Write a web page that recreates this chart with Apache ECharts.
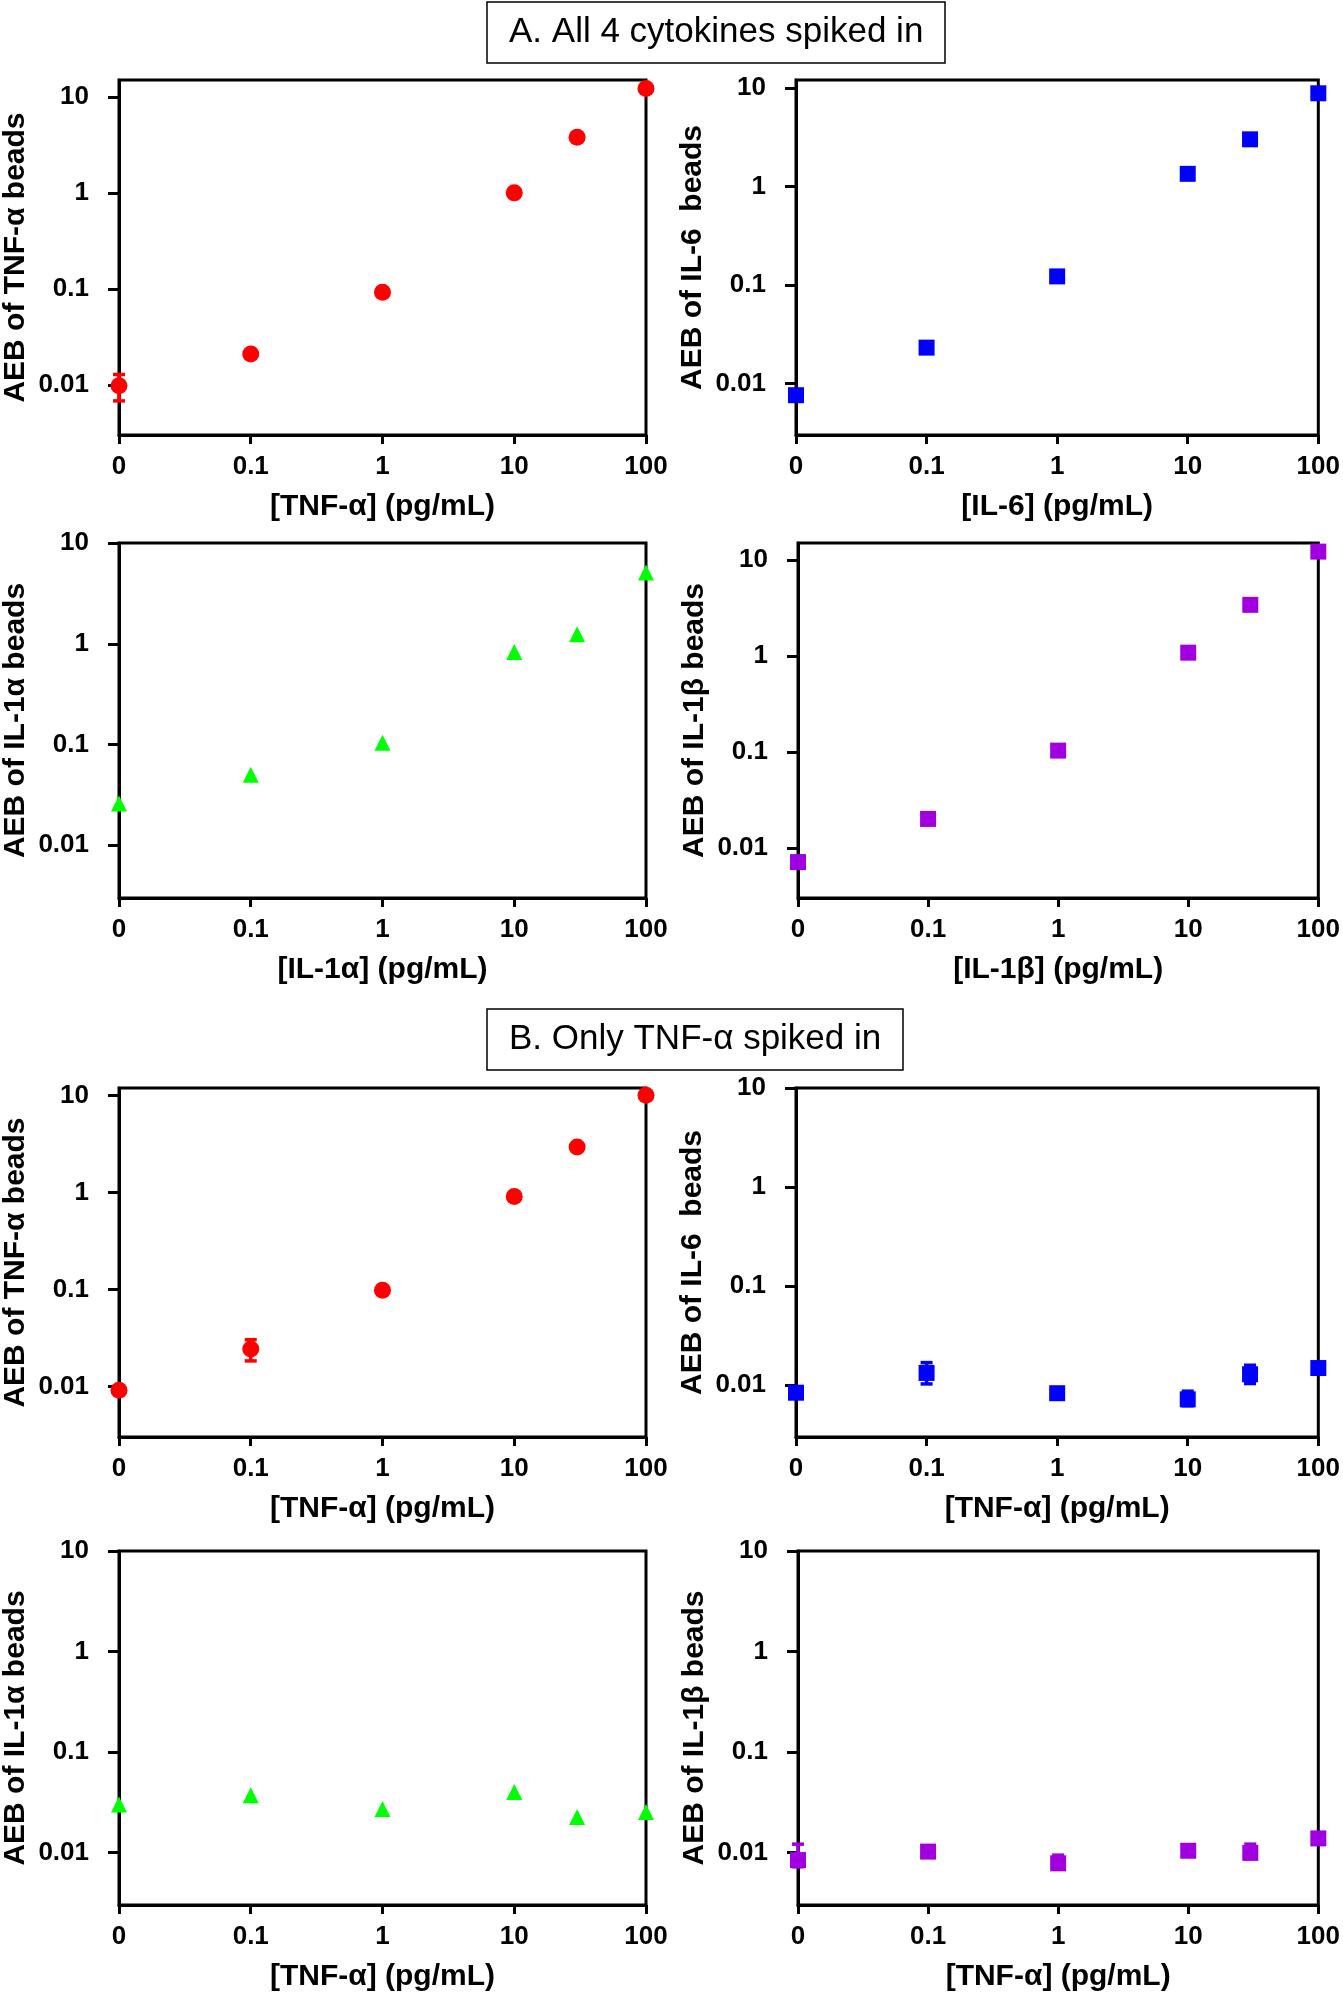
<!DOCTYPE html>
<html>
<head>
<meta charset="utf-8">
<script src="https://cdn.jsdelivr.net/npm/echarts@6/dist/echarts.min.js"></script>
<style>
html,body{margin:0;padding:0;background:#fff;}
#chart{width:1343px;height:1993px;}
</style>
</head>
<body>
<div id="chart"></div>
<script>
// ---------------- data ----------------
const conc = [0, 0.1, 1, 10, 30, 100];          // pg/mL spiked
const ZERO_AT = 0.01;                            // "0" is drawn at 0.01 on the log axis
const xTickValues = [0.01, 0.1, 1, 10, 100];
const yTickValues = [0.01, 0.1, 1, 10];

// A. All 4 cytokines spiked in
const A_TNF  = [0.0098, 0.021, 0.092, 1.0, 3.8, 12.2];
const A_TNF_errPlus  = [0.003, 0, 0, 0, 0, 0];
const A_TNF_errMinus = [0.003, 0, 0, 0, 0, 0];
const A_IL6  = [0.0076, 0.0231, 0.122, 1.34, 3.0, 8.8];
const A_IL1a = [0.026, 0.050, 0.104, 0.83, 1.24, 5.1];
const A_IL1b = [0.0071, 0.020, 0.103, 1.08, 3.4, 12.2];

// B. Only TNF-α spiked in
const B_TNF  = [0.0091, 0.0243, 0.098, 0.91, 2.96, 10.1];
const B_TNF_errPlus  = [0, 0.006, 0, 0, 0, 0];
const B_TNF_errMinus = [0, 0.006, 0, 0, 0, 0];
const B_IL6  = [0.0084, 0.0133, 0.0083, 0.0072, 0.0129, 0.0149];
const B_IL6_errPlus  = [0.001, 0.0036, 0, 0.0015, 0.003, 0];
const B_IL6_errMinus = [0.001, 0.003, 0, 0.001, 0.0025, 0];
const B_IL1a = [0.030, 0.037, 0.027, 0.040, 0.0225, 0.0253];
const B_IL1b = [0.0084, 0.0102, 0.0078, 0.0104, 0.0099, 0.0138];
const B_IL1b_errPlus  = [0.0037, 0, 0.0016, 0.0005, 0.0022, 0];
const B_IL1b_errMinus = [0.0012, 0, 0.001, 0.0005, 0.001, 0];

const titleA = 'A. All 4 cytokines spiked in';
const titleB = 'B. Only TNF-\u03b1 spiked in';

// ---------------- styling ----------------
const FONT = '"Liberation Sans", Arial, sans-serif';
const RED = '#FF0000', BLUE = '#0000FF', GREEN = '#00FF00', PURPLE = '#A000E0';

const panels = [
  {box:[115, 80, 531, 355],  yMax:15, yName:'AEB of TNF-\u03b1 beads', xName:'[TNF-\u03b1] (pg/mL)', data:A_TNF, color:RED, symbol:'circle', size:17, ep:A_TNF_errPlus, em:A_TNF_errMinus},
  {box:[796, 80, 545, 355],  yMax:12, yName:'AEB of IL-6  beads',      xName:'[IL-6] (pg/mL)',      data:A_IL6, color:BLUE, symbol:'rect', size:16},
  {box:[115, 543, 531, 355], yMax:10, yName:'AEB of IL-1\u03b1 beads', xName:'[IL-1\u03b1] (pg/mL)', data:A_IL1a, color:GREEN, symbol:'triangle', size:16},
  {box:[798, 543, 543, 355], yMax:15, yName:'AEB of IL-1\u03b2 beads', xName:'[IL-1\u03b2] (pg/mL)', data:A_IL1b, color:PURPLE, symbol:'rect', size:16},
  {box:[115, 1088, 531, 349],yMax:12, yName:'AEB of TNF-\u03b1 beads', xName:'[TNF-\u03b1] (pg/mL)', data:B_TNF, color:RED, symbol:'circle', size:17, ep:B_TNF_errPlus, em:B_TNF_errMinus},
  {box:[796, 1088, 545, 349],yMax:10, yName:'AEB of IL-6  beads',      xName:'[TNF-\u03b1] (pg/mL)', data:B_IL6, color:BLUE, symbol:'rect', size:16, ep:B_IL6_errPlus, em:B_IL6_errMinus},
  {box:[115, 1551, 531, 355],yMax:10, yName:'AEB of IL-1\u03b1 beads', xName:'[TNF-\u03b1] (pg/mL)', data:B_IL1a, color:GREEN, symbol:'triangle', size:16},
  {box:[798, 1551, 543, 355],yMax:10, yName:'AEB of IL-1\u03b2 beads', xName:'[TNF-\u03b1] (pg/mL)', data:B_IL1b, color:PURPLE, symbol:'rect', size:16, ep:B_IL1b_errPlus, em:B_IL1b_errMinus}
];

function fmtNum(v){ return String(Number(Number(v).toPrecision(3))); }
function xPos(c){ return c === 0 ? ZERO_AT : c; }

const grid = [], xAxis = [], yAxis = [], series = [];
panels.forEach((p, i) => {
  grid.push({left:p.box[0], top:p.box[1], width:p.box[2], height:p.box[3],
    show:true, borderColor:'#000', borderWidth:3, backgroundColor:'rgba(0,0,0,0)'});
  xAxis.push({
    gridIndex:i, type:'log', logBase:10, min:0.01, max:100,
    axisLine:{show:true, onZero:false, lineStyle:{color:'#000', width:3}},
    axisTick:{show:true, length:9, customValues:xTickValues, lineStyle:{color:'#000', width:3}},
    minorTick:{show:false}, splitLine:{show:false},
    axisLabel:{customValues:xTickValues, margin:19, color:'#000', fontSize:26, fontWeight:'bold', fontFamily:FONT,
      formatter:v => (v < 0.05 ? '0' : fmtNum(v))},
    name:p.xName, nameLocation:'middle', nameGap:57,
    nameTextStyle:{color:'#000', fontSize:30, fontWeight:'bold', fontFamily:FONT}
  });
  yAxis.push({
    gridIndex:i, type:'log', logBase:10, min:0.003, max:p.yMax,
    axisLine:{show:true, onZero:false, lineStyle:{color:'#000', width:3}},
    axisTick:{show:true, length:11, customValues:yTickValues, lineStyle:{color:'#000', width:3}},
    minorTick:{show:false}, splitLine:{show:false},
    axisLabel:{customValues:yTickValues, margin:30, color:'#000', fontSize:26, fontWeight:'bold', fontFamily:FONT,
      formatter:v => fmtNum(v)},
    name:p.yName, nameLocation:'middle', nameGap:88,
    nameTextStyle:{color:'#000', fontSize:30, fontWeight:'bold', fontFamily:FONT}
  });
  if (p.ep) {
    const errData = [];
    conc.forEach((c, k) => {
      if (p.ep[k] > 0 || p.em[k] > 0) errData.push([xPos(c), p.data[k], p.data[k] - p.em[k], p.data[k] + p.ep[k]]);
    });
    series.push({
      type:'custom', xAxisIndex:i, yAxisIndex:i, z:3, clip:false, silent:true,
      data:errData,
      renderItem:(params, api) => {
        const x = api.value(0);
        const lo = api.coord([x, api.value(2)]);
        const hi = api.coord([x, api.value(3)]);
        const hw = 6;
        const st = {stroke:p.color, lineWidth:3.5};
        return {type:'group', children:[
          {type:'line', shape:{x1:lo[0], y1:lo[1], x2:hi[0], y2:hi[1]}, style:st},
          {type:'line', shape:{x1:hi[0]-hw, y1:hi[1], x2:hi[0]+hw, y2:hi[1]}, style:st},
          {type:'line', shape:{x1:lo[0]-hw, y1:lo[1], x2:lo[0]+hw, y2:lo[1]}, style:st}
        ]};
      }
    });
  }
  series.push({
    type:'scatter', xAxisIndex:i, yAxisIndex:i, z:4, clip:false,
    symbol:p.symbol, symbolSize:p.size,
    itemStyle:{color:p.color, opacity:1},
    data:conc.map((c, k) => [xPos(c), p.data[k]])
  });
});

const option = {
  backgroundColor:'#fff',
  animation:false,
  title:[
    {text:titleA, left:487, top:2, padding:[12, 22, 12, 22], borderColor:'#000', borderWidth:1.5,
     textStyle:{fontFamily:FONT, fontSize:35, fontWeight:'normal', color:'#000', lineHeight:37}},
    {text:titleB, left:487, top:1009, padding:[12, 22, 12, 22], borderColor:'#000', borderWidth:1.5,
     textStyle:{fontFamily:FONT, fontSize:35, fontWeight:'normal', color:'#000', lineHeight:37}}
  ],
  grid, xAxis, yAxis, series
};

const chart = echarts.init(document.getElementById('chart'), null, {renderer:'canvas'});
chart.setOption(option);
</script>
</body>
</html>
